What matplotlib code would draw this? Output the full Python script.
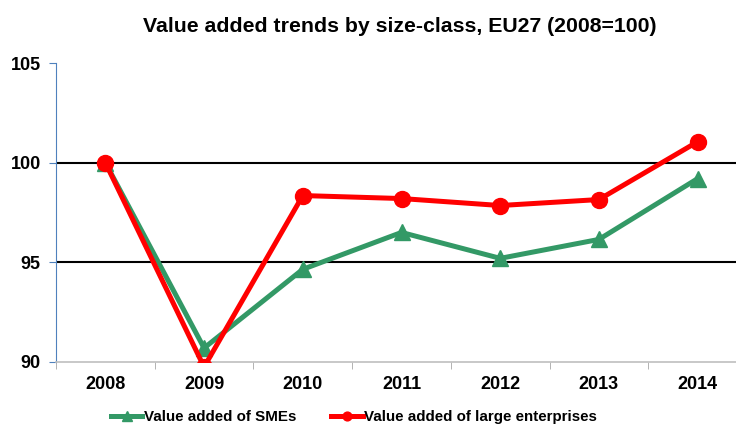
import matplotlib.pyplot as plt
import numpy as np

plt.rcParams['font.family'] = ['Liberation Sans', 'DejaVu Sans']

# Data
years = ['2008', '2009', '2010', '2011', '2012', '2013', '2014']
sme_values = [100.0, 90.7, 94.65, 96.5, 95.2, 96.15, 99.2]
large_values = [100.0, 89.75, 98.35, 98.2, 97.85, 98.15, 101.05]

x = np.arange(len(years))

fig = plt.figure(figsize=(7.36, 4.28), dpi=100)
ax = fig.add_axes([56 / 736, 1 - 362 / 428, 691 / 736, 299 / 428])

# Gridlines
for gy in [95, 100]:
    ax.axhline(gy, color='black', linewidth=1.5, zorder=1)

ax.plot(x, sme_values, color='#339966', linewidth=3.6, marker='^', markersize=12,
        label='Value added of SMEs', zorder=3)
ax.plot(x, large_values, color='#ff0000', linewidth=3.6, marker='o', markersize=11.5,
        label='Value added of large enterprises', zorder=4)

ax.set_xlim(-0.5, len(years) - 0.5)
ax.set_ylim(90, 105)
ax.set_yticks([90, 95, 100, 105])
ax.set_xticks(x)
ax.set_xticklabels(years)
ax.set_xticks(np.arange(-0.5, len(years), 1), minor=True)

for lab in ax.get_xticklabels() + ax.get_yticklabels():
    lab.set_fontweight('bold')
    lab.set_fontsize(13)

ax.tick_params(axis='x', which='major', length=0, pad=10)
ax.tick_params(axis='x', which='minor', length=5, color='#a6a6a6', direction='out')
ax.tick_params(axis='y', length=5, color='#4f81bd', direction='out', pad=6)

ax.spines['top'].set_visible(False)
ax.spines['right'].set_visible(False)
ax.spines['left'].set_color('#4f81bd')
ax.spines['bottom'].set_color('#bfbfbf')
ax.spines['bottom'].set_linewidth(1.2)

fig.text(400 / 736, 1 - 27 / 428, 'Value added trends by size-class, EU27 (2008=100)',
         ha='center', va='center', fontsize=15.3, fontweight='bold')

leg = fig.legend(loc='center', bbox_to_anchor=(354 / 736, 1 - 417 / 428), ncol=2,
                 frameon=False, prop={'weight': 'bold', 'size': 10.9},
                 handlelength=2.1, columnspacing=2.3, handletextpad=0.1, markerscale=0.55)

fig.savefig('out.png', dpi=100)
